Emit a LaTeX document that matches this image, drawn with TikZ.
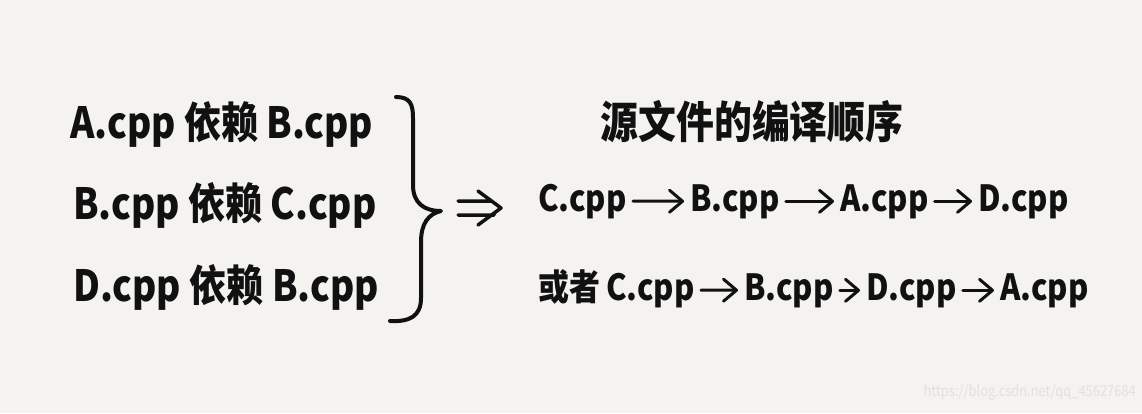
\documentclass[tikz,border=0pt]{standalone}
\usepackage{fontspec}
\setmainfont{Noto Sans CJK SC}[FakeStretch=0.86]
\usetikzlibrary{arrows.meta}
\definecolor{bg}{HTML}{F4F3EF}
\definecolor{ink}{HTML}{111111}
\definecolor{wm}{HTML}{E2E1DD}
\begin{document}
\begin{tikzpicture}[x=1pt,y=-1pt,
  txt/.style={font=\fontsize{43}{43}\selectfont\bfseries, text=ink, inner sep=0pt, anchor=base west},
  rtxt/.style={txt, font=\fontsize{36}{36}\selectfont\bfseries},
  flow/.style={draw=ink, line width=3pt, line cap=round, line join=round,
    -{Straight Barb[length=13pt,width=22pt,line cap=round,line join=round]}, shorten <=6pt, shorten >=6pt},
  ink line/.style={draw=ink, line width=4pt, line cap=round, line join=round}
]
\fill[bg] (0,0) rectangle (1142,413);
\useasboundingbox (0,0) rectangle (1142,413);

% left: dependencies
\node[txt] (l1) at (70,138) {A.cpp 依赖 B.cpp};
\node[txt] (l2) at (73,219) {B.cpp 依赖 C.cpp};
\node[txt] (l3) at (73,301) {D.cpp 依赖 B.cpp};

% brace
\path[ink line] (396,97) .. controls (410,97) and (413,104) .. (413,118)
  -- (413,185) .. controls (413,203) and (424,211) .. (441,211)
  .. controls (428,214) and (421,224) .. (421,242)
  -- (421,298) .. controls (421,316) and (410,322) .. (390,321);

% double arrow
\path[ink line, line width=3.5pt] (458,201) -- (492,201) (458,215) -- (494,215)
  (478,191) -- (501,208) -- (478,225);

% title
\node[txt, anchor=center, font=\fontsize{44}{44}\selectfont\bfseries] (title) at (752,122) {源文件的编译顺序};

% first order
\node[rtxt] (c1) at (538,211) {C.cpp};
\node[rtxt] (b1) at (690,211) {B.cpp};
\node[rtxt] (a1) at (840,211) {A.cpp};
\node[rtxt] (d1) at (978,211) {D.cpp};
\draw[flow] (c1) -- (b1);
\draw[flow] (b1) -- (a1);
\draw[flow] (a1) -- (d1);

% second order
\node[rtxt] (or) at (538,300) {或者};
\node[rtxt] (c2) at (606,300) {C.cpp};
\node[rtxt] (b2) at (744,300) {B.cpp};
\node[rtxt] (d2) at (866,300) {D.cpp};
\node[rtxt] (a2) at (1000,300) {A.cpp};
\draw[flow] (c2) -- (b2);
\draw[flow] (b2) -- (d2);
\draw[flow] (d2) -- (a2);

% watermark
\node[font=\fontsize{15}{15}\selectfont, text=wm, anchor=base east, inner sep=0pt] (wmk) at (1136,396) {https://blog.csdn.net/qq\_45627684};
\end{tikzpicture}
\end{document}
